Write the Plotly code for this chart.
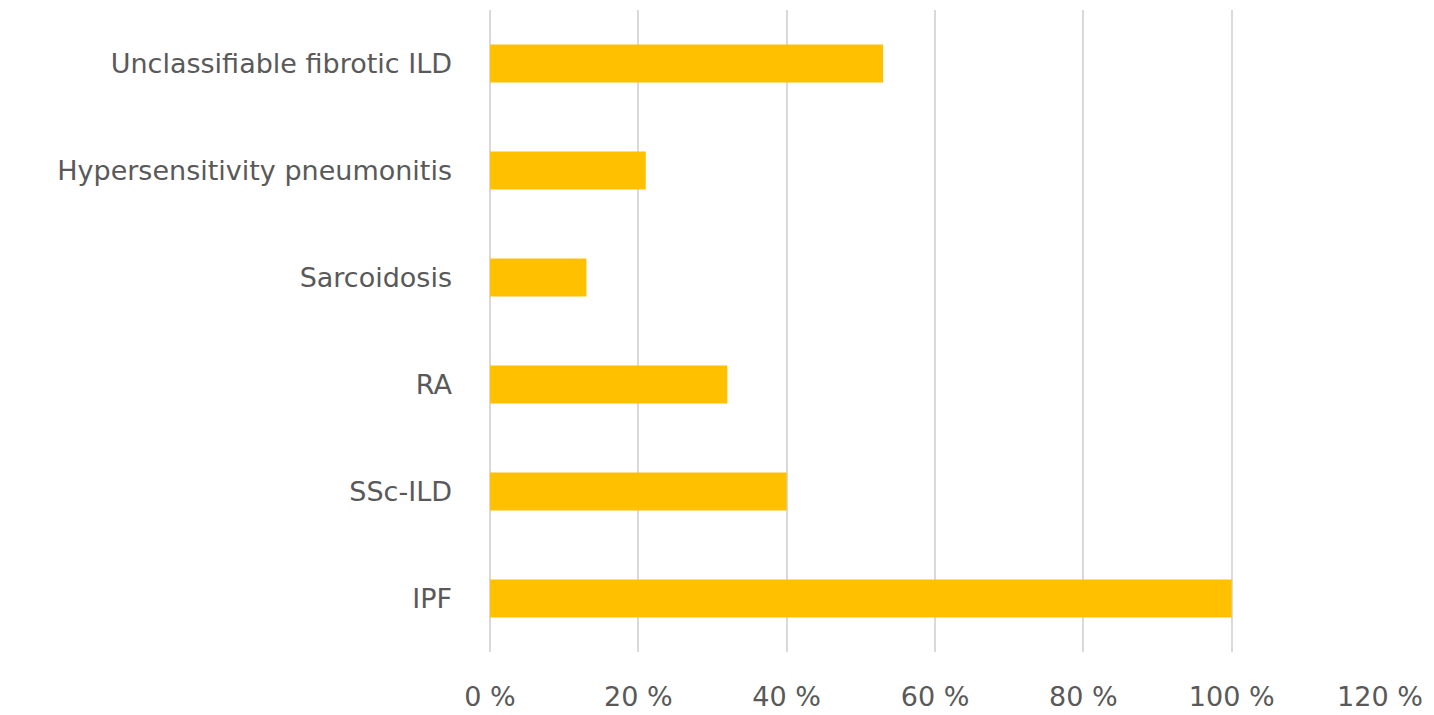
import plotly.graph_objects as go

categories = ["IPF", "SSc-ILD", "RA", "Sarcoidosis", "Hypersensitivity pneumonitis", "Unclassifiable fibrotic ILD"]
values = [100, 40, 32, 13, 21, 53]
tick_vals = [0, 20, 40, 60, 80, 100, 120]
tick_text = ["0 %", "20 %", "40 %", "60 %", "80 %", "100 %", "120 %"]

FONT = "DejaVu Sans, sans-serif"
GRAY = "#595959"

fig = go.Figure(go.Bar(
    y=categories, x=values, orientation="h",
    marker=dict(color="#FFC000", line=dict(width=0)),
    width=0.355,
))

fig.update_layout(
    width=1434, height=715,
    margin=dict(l=490, r=54, t=10, b=63),
    paper_bgcolor="white", plot_bgcolor="white",
    showlegend=False,
    font=dict(family=FONT, color=GRAY, size=27),
    xaxis=dict(
        range=[0, 120], tickvals=tick_vals, ticktext=tick_text,
        showgrid=True, gridcolor="#D9D9D9", gridwidth=1.5,
        zeroline=True, zerolinecolor="#D9D9D9", zerolinewidth=1.5,
        showline=False, automargin=False,
        ticks="", ticklabelstandoff=26,
        tickfont=dict(size=27, color=GRAY, family=FONT),
    ),
    yaxis=dict(
        categoryorder="array", categoryarray=categories,
        range=[-0.5, 5.5], automargin=False,
        showgrid=False, zeroline=False, showline=False,
        ticks="", ticklabelstandoff=37,
        tickfont=dict(size=27, color=GRAY, family=FONT),
    ),
)

fig.write_html("out.html")
